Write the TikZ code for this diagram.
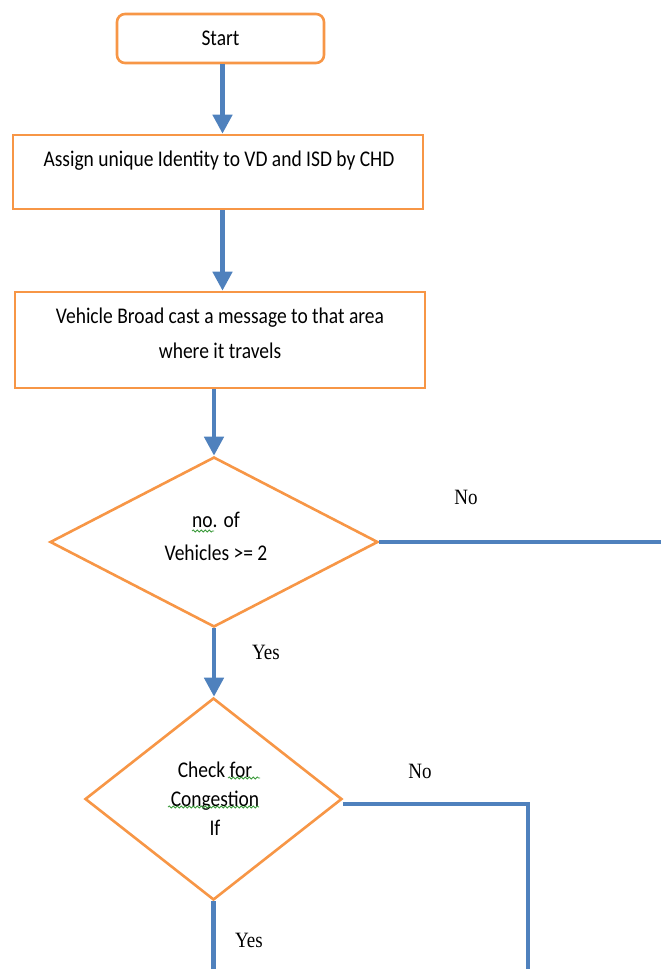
\documentclass[tikz,border=0pt]{standalone}
\usepackage{fontspec}
\usepackage{graphicx}
\setmainfont{Carlito}
\newfontfamily\lblfont{Liberation Serif}
\usetikzlibrary{shapes.geometric,arrows.meta,decorations.pathmorphing}
\definecolor{boxorange}{HTML}{F79646}
\definecolor{lineblue}{HTML}{4F81BD}
\definecolor{spellgreen}{HTML}{3A9A3A}
\newcommand{\vt}[1]{\scalebox{1}[1.15]{#1}}
\begin{document}
\begin{tikzpicture}[x=1pt,y=-1pt,
  boxbase/.style={draw=boxorange, line width=2.6pt, fill=white, inner sep=0pt},
  startbox/.style={boxbase, rectangle, rounded corners=8pt, minimum width=207pt, minimum height=49pt},
  procbox/.style={boxbase, rectangle, minimum width=410pt},
  decbox/.style={boxbase, diamond},
  txt/.style={font=\fontsize{19.5}{33}\selectfont, align=center, inner sep=0pt},
  lbl/.style={font=\lblfont\fontsize{19}{22}\selectfont, inner sep=0pt},
  flow/.style={draw=lineblue, line width=4.5pt},
  arr/.style={flow, -{Triangle[width=19pt,length=19pt]}},
  squig/.style={draw=spellgreen, line width=0.8pt, decorate, decoration={snake, segment length=4pt, amplitude=1pt}}
]
\useasboundingbox (0,0) rectangle (661,969);

% shapes
\node[startbox] (start) at (220.5,38.5) {};
\node[txt] (tstart) at (220.5,38.5) {\vt{Start}};

\node[procbox, minimum height=74pt] (assign) at (218,172) {};
\node[txt] (tassign) at (219,161) {\vt{Assign unique Identity to VD and ISD by CHD}};

\node[procbox, minimum height=96pt] (bcast) at (220,340) {};
\node[txt, font=\fontsize{19.5}{35}\selectfont] (tbcast) at (220,333) {\vt{Vehicle Broad cast a message to that area}\\\vt{where it travels}};

\node[decbox, minimum width=328pt, minimum height=170pt] (d1) at (214,542) {};
\node[txt] (td1) at (216,536) {\vt{no. of}\\\vt{Vehicles >= 2}};

\node[decbox, minimum width=257pt, minimum height=202pt] (d2) at (213.5,799) {};
\node[txt, font=\fontsize{19.5}{29}\selectfont] (td2) at (215,799) {\vt{Check for}\\\vt{Congestion}\\\vt{If}};

% free ends and guide
\coordinate (colA) at (222.5,0);
\coordinate (out1) at (661,542);
\coordinate (turn2) at (528,804);
\coordinate (out2) at (528,969);
\coordinate (out3) at (215,969);

% connectors
\draw[arr] (start.south -| colA) -- (assign.north -| colA);
\draw[arr] (assign.south -| colA) -- (bcast.north -| colA);
\draw[arr] (bcast.south -| d1.north) -- (d1.north);
\draw[arr] (d1.south) -- (d1.south |- d2.north);
\draw[flow] (d1.east) -- (out1);
\draw[flow] (d2.east |- turn2) -- (turn2) -- (out2);
\draw[flow] (d2.south) -- (d2.south |- out3);

% labels
\node[lbl] (no1) at (466,497) {\vt{No}};
\node[lbl] (yes1) at (266,652) {\vt{Yes}};
\node[lbl] (no2) at (420,771) {\vt{No}};
\node[lbl] (yes2) at (249,940) {\vt{Yes}};

% spell-check squiggles
\draw[squig] (192,531) -- (214,531);
\draw[squig] (228,778) -- (260,778);
\draw[squig] (168,807) -- (259,807);
\end{tikzpicture}
\end{document}
